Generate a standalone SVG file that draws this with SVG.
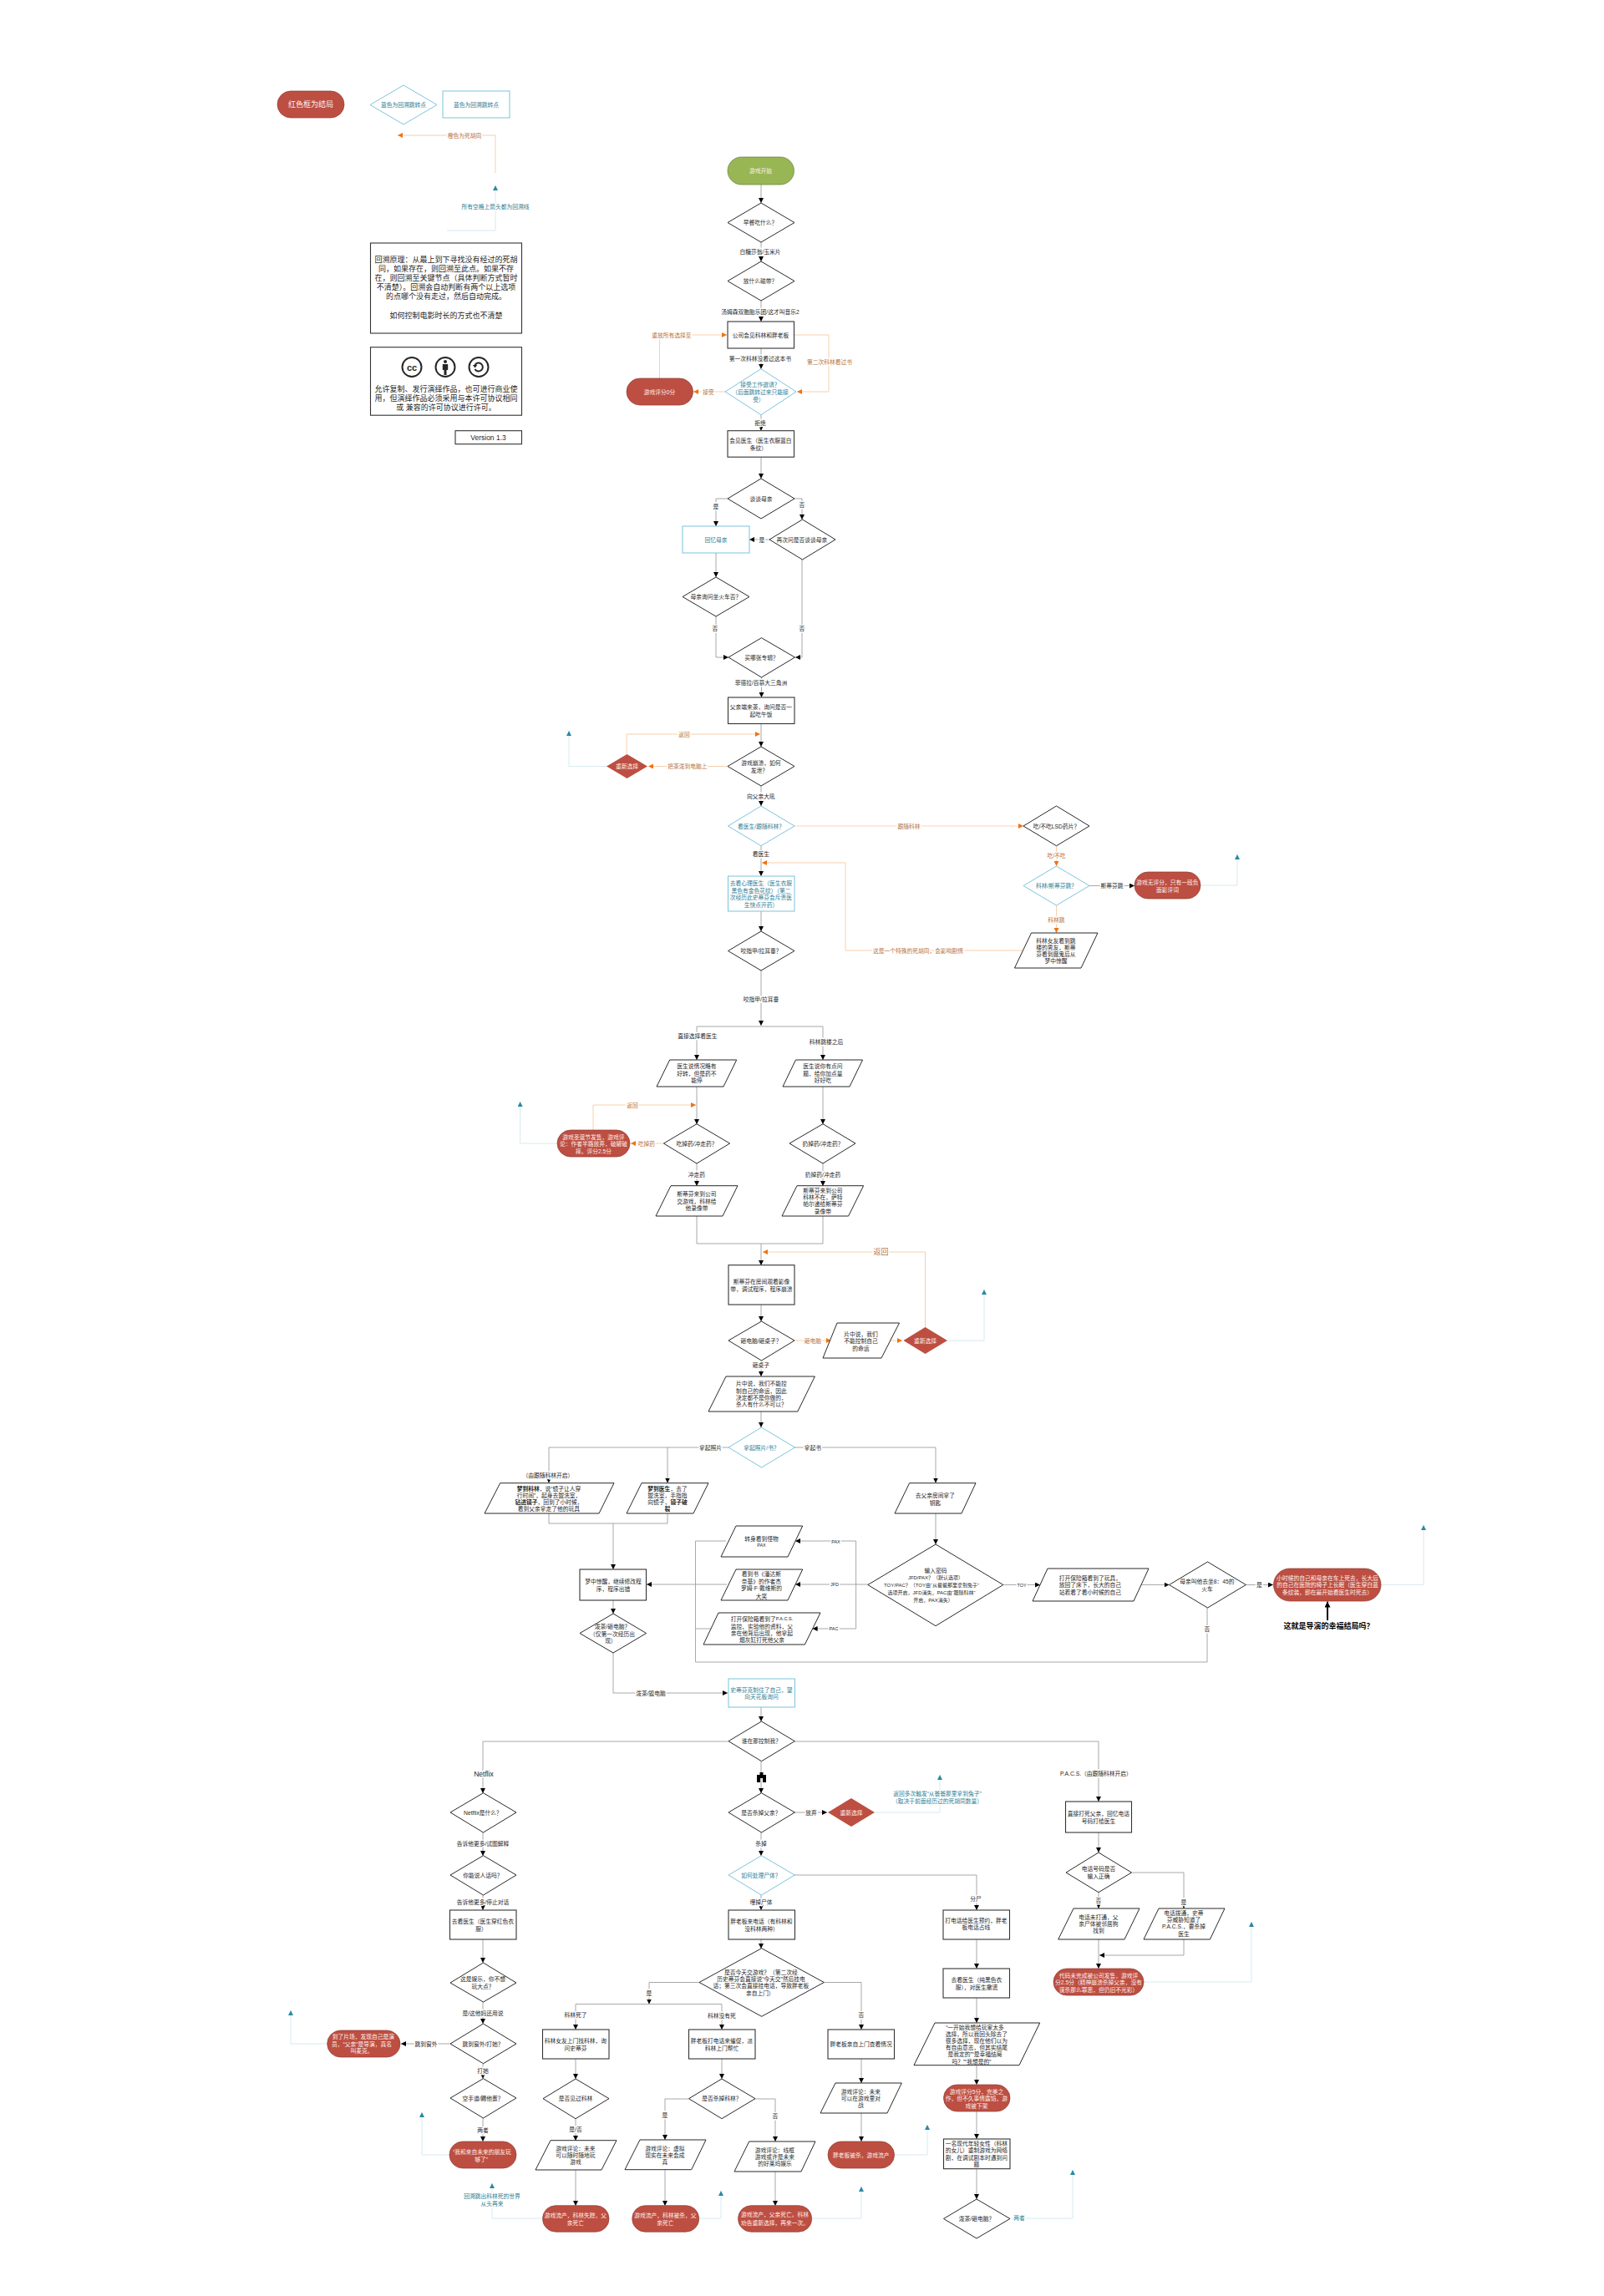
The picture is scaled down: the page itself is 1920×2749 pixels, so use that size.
<svg xmlns="http://www.w3.org/2000/svg" width="1920" height="2749" viewBox="0 0 1920 2749">
<style>
text{font-family:"Liberation Sans","Noto Sans CJK SC",sans-serif;font-size:6.75px;fill:#1f1f1f;text-anchor:middle;dominant-baseline:central}
.n{fill:#fff;stroke:#111;stroke-width:.9}
.h{fill:#fff;stroke:#333;stroke-width:1.1}
.b{fill:#fff;stroke:#6dbdd7;stroke-width:.9}
.r{fill:#bd4f42;stroke:#8f3b32;stroke-width:.7}
.d{fill:#bd4f42;stroke:none}
.g{fill:#98b654;stroke:#66803a;stroke-width:.7}
.tt{fill:#2f7e94}
.tw{fill:#fdeee9}
.to{fill:#b8733e}
.big{font-size:9px}
.em{font-weight:bold}
.l{paint-order:stroke;stroke:#fff;stroke-width:3px;stroke-linejoin:round}
.c{fill:none;stroke:#939393;stroke-width:.8}
.a{fill:none;stroke:#939393;stroke-width:.8;marker-end:url(#ab)}
.o{fill:none;stroke:#f8cfac;stroke-width:1;marker-end:url(#ao)}
.t{fill:none;stroke:#d3e8ee;stroke-width:.9;marker-end:url(#at)}
</style>
<defs>
<marker id="ab" markerUnits="userSpaceOnUse" viewBox="0 0 6 6" refX="6" refY="3" markerWidth="6" markerHeight="6" orient="auto"><path d="M0 0L6 3L0 6z" fill="#000"/></marker>
<marker id="ao" markerUnits="userSpaceOnUse" viewBox="0 0 6 6" refX="6" refY="3" markerWidth="6" markerHeight="6" orient="auto"><path d="M0 0L6 3L0 6z" fill="#ee7412"/></marker>
<marker id="at" markerUnits="userSpaceOnUse" viewBox="0 0 6 6" refX="6" refY="3" markerWidth="6" markerHeight="6" orient="auto"><path d="M0 0L6 3L0 6z" fill="#2a88a4"/></marker>
<marker id="ak" markerUnits="userSpaceOnUse" viewBox="0 0 7 7" refX="7" refY="3.5" markerWidth="7" markerHeight="7" orient="auto"><path d="M0 0L7 3.5L0 7z" fill="#000"/></marker>
</defs>
<rect width="1920" height="2749" fill="#fff"/>
<g id="connectors">
<path class="a" d="M911 221V243"/><path class="a" d="M911 290V313"/><path class="a" d="M911 360V385"/><path class="a" d="M911 417V441.700"/><path class="a" d="M911 496.700V515.700"/><path class="a" d="M911 547V573"/><path class="a" d="M871 597H857V630"/><path class="a" d="M950 597H960V622"/><path class="a" d="M921 646H897"/><path class="a" d="M960 670V787H952"/><path class="a" d="M857 662V691"/><path class="a" d="M857 738V787H872"/><path class="a" d="M911.500 811V835"/><path class="a" d="M911 866V894"/><path class="a" d="M911 941V965"/><path class="a" d="M911 1013V1049"/><path class="a" d="M911 1091V1115"/><path class="a" d="M911 1162V1228"/><path class="a" d="M834 1229V1269"/><path class="a" d="M985 1229V1269"/><path class="a" d="M834 1301V1346"/><path class="a" d="M985 1301V1346"/><path class="a" d="M834 1393V1420"/><path class="a" d="M985 1393V1420"/><path class="a" d="M911 1489V1515"/><path class="a" d="M911 1562V1582"/><path class="a" d="M911 1629V1648"/><path class="a" d="M911 1690V1709"/><path class="a" d="M872 1733H657V1775.500"/><path class="a" d="M799 1733V1775.500"/><path class="a" d="M951 1733H1120V1775.500"/><path class="a" d="M734 1824V1879"/><path class="a" d="M734 1916V1932"/><path class="a" d="M734 1979V2027H871"/><path class="a" d="M1120 1812V1849"/><path class="a" d="M1039 1897H952"/><path class="a" d="M1024.600 1897V1845H952"/><path class="a" d="M1024.600 1897V1950H972.600"/><path class="a" d="M870 1897H774"/><path class="a" d="M1201 1897.500H1245"/><path class="a" d="M1366 1897.500H1399.500"/><path class="a" d="M1491 1897.500H1524"/><path class="a" d="M911 2044V2061"/><path class="a" d="M911 2109V2147"/><path class="a" d="M911 2194V2222"/><path class="a" d="M911 2269V2287"/><path class="a" d="M911 2322V2333"/><path class="a" d="M872 2085H578V2147"/><path class="a" d="M951 2085H1315V2157"/><path class="a" d="M578 2194V2222"/><path class="a" d="M578 2269V2287"/><path class="a" d="M578 2322V2350"/><path class="a" d="M578 2397V2423"/><path class="a" d="M578 2471V2488.700"/><path class="a" d="M578 2536V2564"/><path class="a" d="M539 2447H480"/><path class="a" d="M951 2170H990"/><path class="a" d="M951 2245H1169V2287"/><path class="a" d="M1169 2322V2357"/><path class="a" d="M1169 2392V2422"/><path class="a" d="M1169 2472.700V2496"/><path class="a" d="M1169 2528V2561"/><path class="a" d="M1169 2597V2633"/><path class="a" d="M837 2373.500H777V2399.500"/><path class="a" d="M689 2399.500V2430"/><path class="a" d="M864 2399.500V2430"/><path class="a" d="M986 2373.500H1031V2430"/><path class="a" d="M689 2465V2489"/><path class="a" d="M689 2537V2563"/><path class="a" d="M689 2598V2641"/><path class="a" d="M864 2465V2489"/><path class="a" d="M824 2513H796V2562"/><path class="a" d="M904 2513H928V2564"/><path class="a" d="M796 2598V2641"/><path class="a" d="M928 2600V2641"/><path class="a" d="M1031 2465V2494"/><path class="a" d="M1031 2530V2564"/><path class="a" d="M1315 2194V2218"/><path class="a" d="M1315 2266V2285"/><path class="a" d="M1355 2242H1417V2285"/><path class="a" d="M1315 2322V2357"/><path class="a" d="M1417 2322V2341H1316"/><path class="a" d="M1304 1060.500H1358"/>
<path class="c" d="M834 1229H985M834 1456V1489H985V1456M657 1812V1824H799V1812M869 1845H832.500V1990H1445V1925M851 1950H832.500M689 2399.500H864"/>
<path class="o" d="M593 207V162H476"/><path class="o" d="M789.500 453V401H870"/><path class="o" d="M950 401H992V469H954"/><path class="o" d="M868 469H830"/><path class="o" d="M750 903V879H910"/><path class="o" d="M871 917.500H776"/><path class="o" style="stroke-width:1.400;stroke:#fbe3d3" d="M951 989H1225"/><path class="o" d="M1264.500 1013V1037"/><path class="o" d="M1264.500 1084V1117"/><path class="o" d="M1224 1138H1012V1033H912"/><path class="o" d="M710 1353V1323H833"/><path class="o" d="M794 1369H755"/><path class="o" d="M1107.500 1589V1499H913"/><path class="o" d="M951 1605H995"/><path class="o" d="M1065 1605H1080"/>
<path class="t" d="M535 276H593V222"/><path class="t" d="M726 917.500H681V875"/><path class="t" d="M1437 1060H1481V1023"/><path class="t" d="M667 1369H622.600V1319"/><path class="t" d="M1134 1605H1178V1544"/><path class="t" d="M1653 1897.500H1704V1826"/><path class="t" d="M1047 2170H1125V2125"/><path class="t" d="M1369 2373H1498V2301"/><path class="t" d="M392 2447H348V2407"/><path class="t" d="M538 2580H505V2529"/><path class="t" d="M649 2656H589V2614"/><path class="t" d="M837 2656H863V2623"/><path class="t" d="M972 2656H1031V2618"/><path class="t" d="M1071 2580H1110V2544"/><path class="t" d="M1209 2656H1284V2598"/>
<path d="M1589 1940V1917.500" fill="none" stroke="#000" stroke-width="2" marker-end="url(#ak)"/>
<path d="M909.500 2122h4v3h3.500v9h-4v-5h-3v5h-4v-9h3.500z" fill="#000"/>
<g>
<text class="l to" x="556" y="162">橙色为死胡同</text>
<text class="l tt" x="593" y="247">所有空格上箭头都为回溯线</text>
<text class="l" x="910" y="301">白糖莎翁/玉米片</text>
<text class="l" x="910" y="373">汤姆森双胞胎乐团/这才叫音乐2</text>
<text class="l to" x="804" y="401">重放所有选择至</text>
<text class="l" x="910" y="429">第一次科林没看过这本书</text>
<text class="l to" x="993" y="433">第二次科林看过书</text>
<text class="l to" x="848" y="469">接受</text>
<text class="l" x="910" y="506">拒绝</text>
<text class="l" x="857" y="606">是</text>
<text class="l" x="960" y="604">否</text>
<text class="l" x="912" y="646">是</text>
<text class="l" x="856" y="752">否</text>
<text class="l" x="960" y="752">否</text>
<text class="l" x="911" y="817">菲德拉/百慕大三角洲</text>
<text class="l to" x="819" y="879">返回</text>
<text class="l to" x="823" y="917.500">把茶泼到电脑上</text>
<text class="l" x="911" y="953">向父亲大吼</text>
<text class="l to" x="1088" y="989">跟随科林</text>
<text class="l" x="911" y="1022">看医生</text>
<text class="l to" x="1264.500" y="1024">吃/不吃</text>
<text class="l" x="1331" y="1060.500">斯蒂芬跳</text>
<text class="l to" x="1264.500" y="1101">科林跳</text>
<text class="l to" x="1099" y="1138">这是一个特殊的死胡同&#xFF0C;会影响剧情</text>
<text class="l" x="911" y="1196">咬指甲/拉耳垂</text>
<text class="l" x="835" y="1240">直接选择看医生</text>
<text class="l" x="989" y="1247">科林跳楼之后</text>
<text class="l to" x="757" y="1323">返回</text>
<text class="l to" x="774" y="1369">吃掉药</text>
<text class="l" x="834" y="1406">冲走药</text>
<text class="l" x="985" y="1406">扔掉药/冲走药</text>
<text class="l to big" x="1054.500" y="1499">返回</text>
<text class="l to" x="973" y="1605">砸电脑</text>
<text class="l" x="911" y="1634">砸桌子</text>
<text class="l" x="850.500" y="1733">拿起照片</text>
<text class="l" x="973" y="1733.500">拿起书</text>
<text class="l" x="656" y="1766">&#xFF08;由跟随科林开启&#xFF09;</text>
<text class="l" style="font-size:5.500px" x="1000.500" y="1846">PAX</text>
<text class="l" style="font-size:5.500px" x="999" y="1897">JFD</text>
<text class="l" style="font-size:5.500px" x="998" y="1950">PAC</text>
<text class="l" style="font-size:5.500px" x="1223" y="1897.500">TOY</text>
<text class="l" x="1507.500" y="1897.500">是</text>
<text class="l" x="1445" y="1950">否</text>
<text class="l" x="779" y="2027">泼茶/毁电脑</text>
<text class="l" style="font-size:8.500px" x="579" y="2124">Netflix</text>
<text class="l" x="1312" y="2123">P.A.C.S.&#xFF08;由跟随科林开启&#xFF09;</text>
<text class="l" x="971" y="2170">放弃</text>
<text class="l tt" x="1122" y="2147">返回多次触发&#x201C;从爸爸那里拿到兔子&#x201D;</text>
<text class="l tt" x="1122" y="2156">&#xFF08;取决于前面经历过的死胡同数量&#xFF09;</text>
<text class="l" x="578" y="2207.700">告诉他更多/试图解释</text>
<text class="l" x="911" y="2207.700">杀掉</text>
<text class="l" x="578" y="2277.700">告诉他更多/停止对话</text>
<text class="l" x="911" y="2277.700">埋掉尸体</text>
<text class="l" x="1168" y="2273">分尸</text>
<text class="l" x="1315" y="2275.700">否</text>
<text class="l" x="1417" y="2277">是</text>
<text class="l" x="777" y="2386">是</text>
<text class="l" x="578" y="2410">是/这他妈还用说</text>
<text class="l" x="689" y="2412">科林死了</text>
<text class="l" x="864" y="2413.700">科林没有死</text>
<text class="l" x="1031" y="2412">否</text>
<text class="l" x="510" y="2447">跳到窗外</text>
<text class="l" x="578" y="2479.700">打她</text>
<text class="l" x="796" y="2532">是</text>
<text class="l" x="928" y="2533.700">否</text>
<text class="l" x="578" y="2550">两者</text>
<text class="l" x="689" y="2549.700">是/否</text>
<text class="l tt" x="589" y="2629.500">回溯跳出科林死的世界</text>
<text class="l tt" x="589" y="2638.500">从头再来</text>
<text class="l tt" x="1220" y="2655">两者</text>
</g>
</g>

<g id="legend-end"><rect class="r" x="332" y="109" width="80" height="32" rx="16"/><text class="tw big" x="372" y="125">红色框为结局</text></g>
<g id="legend-diamond"><polygon class="b" points="483,102 523,125.500 483,149 443,125.500"/><text class="tt" x="483" y="125">蓝色为回溯跳转点</text></g>
<g id="legend-rect"><rect class="b" x="530" y="109" width="80" height="32"/><text class="tt" x="570" y="125.500">蓝色为回溯跳转点</text></g>
<g id="note-principle"><rect class="h" x="443.500" y="291" width="181" height="108"/>
<text class="big"><tspan x="534" y="311">回溯原理&#xFF1A;从最上到下寻找没有经过的死胡</tspan><tspan x="534" y="322">同&#xFF0C;如果存在&#xFF0C;则回溯至此点。如果不存</tspan><tspan x="534" y="333">在&#xFF0C;则回溯至关键节点&#xFF08;具体判断方式暂时</tspan><tspan x="534" y="343.500">不清楚&#xFF09;。回溯会自动判断有两个以上选项</tspan><tspan x="534" y="355">的点哪个没有走过&#xFF0C;然后自动完成。</tspan><tspan x="534" y="378">如何控制电影时长的方式也不清楚</tspan></text></g>
<g id="note-license"><rect class="h" x="443.500" y="415.700" width="181" height="81.500"/>
<circle cx="493" cy="439.500" r="11.500" fill="#fff" stroke="#262626" stroke-width="2"/><text class="em" style="font-size:11px" x="493" y="439.500">cc</text>
<circle cx="533" cy="439.500" r="11.500" fill="#fff" stroke="#262626" stroke-width="2"/><circle cx="533" cy="433" r="2" fill="#262626"/><path d="M529.800 436h6.400v7h-1.700v6h-3v-6h-1.700z" fill="#262626"/>
<circle cx="573" cy="439.500" r="11.500" fill="#fff" stroke="#262626" stroke-width="2"/><path d="M568.500 437a5 5 0 1 1 0 5" fill="none" stroke="#262626" stroke-width="2"/><path d="M565.800 437h5.500l-2.700 3.500z" fill="#262626"/>
<text class="big"><tspan x="534" y="466">允许复制、发行演绎作品&#xFF0C;也可进行商业使</tspan><tspan x="534" y="477">用&#xFF0C;但演绎作品必须采用与本许可协议相同</tspan><tspan x="534" y="488">或 兼容的许可协议进行许可。</tspan></text></g>
<g id="version"><rect class="h" x="545" y="515.700" width="79.500" height="16"/><text style="font-size:8.500px" x="584.500" y="523.500">Version 1.3</text></g>

<g id="start"><rect class="g" x="871" y="188" width="79.500" height="33" rx="16.500"/><text class="tw" x="910.500" y="204.500">游戏开始</text></g>
<g id="d-breakfast"><polygon class="n" points="911,243 951,266.500 911,290 871,266.500"/><text x="910" y="266.500">早餐吃什么&#xFF1F;</text></g>
<g id="d-tape"><polygon class="n" points="911,313 951,336.500 911,360 871,336.500"/><text x="910" y="336.500">放什么磁带&#xFF1F;</text></g>
<g id="r-company"><rect class="h" x="871" y="385" width="79.500" height="32"/><text x="910.500" y="401">公司会见科林和胖老板</text></g>
<g id="d-job"><polygon class="b" points="911,441.700 953,469 911,496.700 868,469"/><text class="tt"><tspan x="910" y="460">接受工作邀请&#xFF1F;</tspan><tspan x="910" y="469">&#xFF08;后面跳转过来只能接</tspan><tspan x="908" y="477.500">受&#xFF09;</tspan></text></g>
<g id="e-score0"><rect class="r" x="750" y="453" width="79.500" height="32" rx="16"/><text class="tw" x="789.500" y="469">游戏评分0分</text></g>
<g id="r-doctor1"><rect class="h" x="871" y="515.700" width="79.500" height="31.500"/><text><tspan x="910.500" y="527">会见医生&#xFF08;医生衣服蓝白</tspan><tspan x="908" y="535.700">条纹&#xFF09;</tspan></text></g>
<g id="d-mother"><polygon class="n" points="911,573 951,597 911,621 871,597"/><text x="911" y="597">谈谈母亲</text></g>
<g id="r-memory"><rect class="b" x="817" y="630" width="80" height="32"/><text class="tt" x="857" y="646">回忆母亲</text></g>
<g id="d-again"><polygon class="n" points="960.500,622 1000,646 960.500,670 921,646"/><text x="960" y="646">再次问是否谈谈母亲</text></g>
<g id="d-train"><polygon class="n" points="857,691 897,714.500 857,738 817,714.500"/><text x="857" y="714.500">母亲询问坐火车否&#xFF1F;</text></g>
<g id="d-album"><polygon class="n" points="911.500,763.700 951.500,787 911.500,811 872,787"/><text x="911.500" y="787">买哪张专辑&#xFF1F;</text></g>
<g id="r-tea"><rect class="h" x="871.500" y="835" width="79.500" height="31.500"/><text><tspan x="911" y="846">父亲端来茶&#xFF0C;询问是否一</tspan><tspan x="911" y="854.700">起吃午饭</tspan></text></g>
<g id="d-crash"><polygon class="n" points="911,894 951,917.500 911,941 871,917.500"/><text><tspan x="911" y="913">游戏崩溃&#xFF0C;如何</tspan><tspan x="909" y="922">发泄&#xFF1F;</tspan></text></g>
<g id="x-reselect1"><polygon class="d" points="750.500,903 775,917.500 750.500,932 726,917.500"/><text class="tw" x="750.500" y="917.500">重新选择</text></g>
<g id="d-follow"><polygon class="b" points="911,965 951,989 911,1012.700 871.500,989"/><text class="tt" x="911" y="989">看医生/跟随科林&#xFF1F;</text></g>
<g id="d-lsd"><polygon class="n" points="1264.500,965 1304,989 1264.500,1012.700 1225,989"/><text x="1264.500" y="989">吃/不吃LSD药片&#xFF1F;</text></g>
<g id="d-jump"><polygon class="b" points="1264.500,1037 1304,1060.500 1264.500,1084 1225,1060.500"/><text class="tt" x="1264.500" y="1060.500">科林/斯蒂芬跳&#xFF1F;</text></g>
<g id="e-noscore"><rect class="r" x="1358" y="1044" width="79" height="32" rx="16"/><text class="tw"><tspan x="1397.500" y="1055.500">游戏无评分&#xFF0C;只有一段负</tspan><tspan x="1397.500" y="1064.500">面影评词</tspan></text></g>
<g id="p-girl"><polygon class="n" points="1234.500,1117 1314,1117 1294,1159 1214.500,1159"/><text><tspan x="1264" y="1125.700">科林女友看到跳</tspan><tspan x="1264" y="1133.700">楼的男友&#xFF0C;斯蒂</tspan><tspan x="1264" y="1141.700">芬看到魔鬼后从</tspan><tspan x="1264" y="1150">梦中惊醒</tspan></text></g>
<g id="r-psych"><rect class="b" x="871.500" y="1049" width="79.500" height="42"/><text class="tt"><tspan x="911" y="1057">去看心理医生&#xFF08;医生衣服</tspan><tspan x="911" y="1065.500">黑色有金色花纹&#xFF09;&#xFF08;第二</tspan><tspan x="911" y="1074">次经历此史蒂芬会斥责医</tspan><tspan x="911" y="1082.500">生快点开药&#xFF09;</tspan></text></g>
<g id="d-nail"><polygon class="n" points="911,1115 951,1138.500 911,1162 871.500,1138.500"/><text x="911" y="1138.500">咬指甲/拉耳垂&#xFF1F;</text></g>
<g id="p-doc-a"><polygon class="n" points="801.700,1269 881.700,1269 866,1301 786,1301"/><text><tspan x="834" y="1276">医生说情况略有</tspan><tspan x="834" y="1284.500">好转&#xFF0C;但是药不</tspan><tspan x="834" y="1293">能停</tspan></text></g>
<g id="p-doc-b"><polygon class="n" points="952.500,1269 1032.500,1269 1017,1301 937,1301"/><text><tspan x="985" y="1276">医生说你有点问</tspan><tspan x="985" y="1284.500">题&#xFF0C;给你加点量</tspan><tspan x="985" y="1293">好好吃</tspan></text></g>
<g id="d-pill-a"><polygon class="n" points="834,1345.700 873.600,1369 834,1393 794.400,1369"/><text x="834" y="1369">吃掉药/冲走药&#xFF1F;</text></g>
<g id="d-pill-b"><polygon class="n" points="985,1345.700 1024,1369 985,1393 945,1369"/><text x="985" y="1369">扔掉药/冲走药&#xFF1F;</text></g>
<g id="e-xmas"><rect class="r" x="667" y="1353" width="87" height="32" rx="16"/><text class="tw"><tspan x="710.500" y="1360.500">游戏圣诞节发售&#xFF0C;游戏评</tspan><tspan x="710.500" y="1368.500">论&#xFF1A;作者半路放弃&#xFF0C;破罐破</tspan><tspan x="710.500" y="1377.500">摔。评分2.5分</tspan></text></g>
<g id="p-steve-a"><polygon class="n" points="803,1419.700 883,1419.700 865,1456 785,1456"/><text><tspan x="834" y="1429">斯蒂芬来到公司</tspan><tspan x="834" y="1437.500">交游戏&#xFF0C;科林给</tspan><tspan x="834" y="1446">他录像带</tspan></text></g>
<g id="p-steve-b"><polygon class="n" points="954,1419.700 1033.600,1419.700 1015.600,1456 936,1456"/><text><tspan x="985" y="1425">斯蒂芬来到公司</tspan><tspan x="985" y="1433">科林不在&#xFF0C;萨特</tspan><tspan x="985" y="1441">帕尔递给斯蒂芬</tspan><tspan x="985" y="1449.500">录像带</tspan></text></g>
<g id="r-watch"><rect class="h" x="872" y="1514.700" width="79" height="47.300"/><text><tspan x="911.500" y="1534">斯蒂芬在房间观看影像</tspan><tspan x="911.500" y="1542.500">带&#xFF0C;调试程序&#xFF0C;程序崩溃</tspan></text></g>
<g id="d-smash"><polygon class="n" points="911.500,1582 951,1605 911.500,1629 872,1605"/><text x="911" y="1605">砸电脑/砸桌子&#xFF1F;</text></g>
<g id="p-film1"><polygon class="n" points="1002,1584 1076.500,1584 1055,1626 985,1626"/><text><tspan x="1030.500" y="1596.500">片中说&#xFF0C;我们</tspan><tspan x="1030.500" y="1605">不能控制自己</tspan><tspan x="1030.500" y="1613.500">的命运</tspan></text></g>
<g id="x-reselect2"><polygon class="d" points="1107.500,1589 1134,1605 1107.500,1621 1081.400,1605"/><text class="tw" x="1107.500" y="1605">重新选择</text></g>
<g id="p-film2"><polygon class="n" points="869,1648 975.400,1648 954.800,1690 848,1690"/><text><tspan x="911.500" y="1656">片中说&#xFF0C;我们不能控</tspan><tspan x="911.500" y="1664.500">制自己的命运&#xFF0C;因此</tspan><tspan x="911.500" y="1672.500">决定都不是你做的&#xFF0C;</tspan><tspan x="911.500" y="1681">杀人有什么不可以&#xFF1F;</tspan></text></g>
<g id="d-photo"><polygon class="b" points="911.500,1709 951.500,1733 911.500,1757 872,1733"/><text class="tt" x="911.500" y="1733">拿起照片/书&#xFF1F;</text></g>
<g id="p-dream-colin"><polygon class="n" points="598.700,1775.700 735,1775.700 717,1812 580,1812"/><text><tspan x="657" y="1781.500"><tspan class="em">梦到科林</tspan>&#xFF0C;说&#x201C;镜子让人穿</tspan><tspan x="657" y="1790">行时间&#x201D;&#xFF0C;起身去盥洗室&#xFF0C;</tspan><tspan x="657" y="1797.500"><tspan class="em">钻进镜子</tspan>&#xFF0C;回到了小时候&#xFF0C;</tspan><tspan x="657" y="1806">看到父亲拿走了他的玩具</tspan></text></g>
<g id="p-dream-doc"><polygon class="n" points="768,1775.700 848,1775.700 830,1812 750,1812"/><text><tspan x="799" y="1781.500"><tspan class="em">梦到医生</tspan>&#xFF0C;去了</tspan><tspan x="799" y="1790">盥洗室&#xFF0C;手指指</tspan><tspan x="799" y="1797.500">向镜子&#xFF0C;<tspan class="em">镜子破</tspan></tspan><tspan class="em" x="799" y="1806">裂</tspan></text></g>
<g id="p-key"><polygon class="n" points="1088.600,1775.700 1168,1775.700 1151,1812 1071,1812"/><text><tspan x="1119.500" y="1789.500">去父亲房间拿了</tspan><tspan x="1119.500" y="1798.500">钥匙</tspan></text></g>
<g id="p-pax"><polygon class="n" points="881,1827 960.700,1827 943,1864 863,1864"/><text><tspan x="911.500" y="1841.500">转身看到怪物</tspan><tspan style="font-size:5.500px" x="911.500" y="1850">PAX</tspan></text></g>
<g id="p-jfd"><polygon class="n" points="881,1879 960.700,1879 943,1916 863,1916"/><text><tspan x="911.500" y="1884">看到书&#x300A;潘达斯</tspan><tspan x="911.500" y="1893">奈基&#x300B;的作者杰</tspan><tspan x="911.500" y="1901">罗姆&#xB7;F&#xB7;戴维斯的</tspan><tspan x="911.500" y="1910.500">大笑</tspan></text></g>
<g id="p-pac"><polygon class="n" points="860,1931 982,1931 963.400,1969 842,1969"/><text><tspan x="912" y="1938">打开保险箱看到了<tspan style="font-size:5.500px">P.A.C.S.</tspan></tspan><tspan x="912" y="1946.500">监控、实验他的资料&#xFF0C;父</tspan><tspan x="912" y="1954.500">亲在他背后出现&#xFF0C;他拿起</tspan><tspan x="912" y="1963">烟灰缸打死他父亲</tspan></text></g>
<g id="r-wake"><rect class="h" x="694" y="1879" width="79.500" height="37"/><text><tspan x="734" y="1893">梦中惊醒&#xFF0C;继续修改程</tspan><tspan x="734" y="1902">序&#xFF0C;程序出错</tspan></text></g>
<g id="d-tea"><polygon class="n" points="734,1932 773.600,1955.500 734,1979 694,1955.500"/><text><tspan x="733" y="1947">泼茶/砸电脑&#xFF1F;</tspan><tspan x="733" y="1955.500">&#xFF08;仅第一次经历出</tspan><tspan x="731" y="1964">现&#xFF09;</tspan></text></g>
<g id="d-password"><polygon class="n" points="1120,1849 1200.800,1897.500 1120,1946.700 1038.800,1897.500"/><text><tspan x="1120" y="1880">输入密码</tspan><tspan x="1120" y="1889" style="font-size:6px">JFD/PAX&#xFF1F;&#xFF08;默认选项&#xFF09;</tspan><tspan x="1115" y="1898" style="font-size:6px">TOY/PAC&#xFF1F;&#xFF08;TOY由&#x201C;从爸爸那里拿到兔子&#x201D;</tspan><tspan x="1115" y="1906.500" style="font-size:6px">选项开启&#xFF0C;JFD消失&#xFF0C;PAC由&#x201C;跟随科林&#x201D;</tspan><tspan x="1117" y="1915.500" style="font-size:6px">开启&#xFF0C;PAX消失&#xFF09;</tspan></text></g>
<g id="p-toy"><polygon class="n" points="1254,1878 1375,1878 1357,1917 1236,1917"/><text><tspan x="1305" y="1889">打开保险箱看到了玩具&#xFF0C;</tspan><tspan x="1305" y="1897">放回了床下&#xFF0C;长大的自己</tspan><tspan x="1305" y="1906">站着看了看小时候的自己</tspan></text></g>
<g id="d-845"><polygon class="n" points="1445.500,1870 1491.400,1897.500 1445.500,1925 1399.500,1897.500"/><text><tspan x="1445" y="1893">母亲叫他去坐8&#xFF1A;45的</tspan><tspan x="1445" y="1902">火车</tspan></text></g>
<g id="e-happy"><rect class="r" x="1524.500" y="1878" width="128.500" height="39" rx="19.500"/><text class="tw"><tspan x="1589" y="1889">小时候的自己和母亲在车上死去&#xFF0C;长大后</tspan><tspan x="1589" y="1897">的自己在医院的椅子上长眠&#xFF08;医生穿白蓝</tspan><tspan x="1589" y="1906">条纹装&#xFF0C;即在最开始看医生时死去&#xFF09;</tspan></text></g>
<g id="caption"><text class="em big" x="1590.500" y="1947" style="fill:#000">这就是导演的幸福结局吗&#xFF1F;</text></g>
<g id="r-hold"><rect class="b" x="872" y="2010" width="79.500" height="34"/><text class="tt"><tspan x="911.500" y="2022.500">史蒂芬克制住了自己&#xFF0C;望</tspan><tspan x="911.500" y="2031">向天花板询问</tspan></text></g>
<g id="d-who"><polygon class="n" points="911.500,2061 951.300,2084.700 911.500,2108.700 872,2084.700"/><text x="911.500" y="2084.700">谁在那控制我&#xFF1F;</text></g>
<g id="d-netflix"><polygon class="n" points="578.500,2146.700 618,2170 578.500,2194 539,2170"/><text x="578" y="2170">Netflix是什么&#xFF1F;</text></g>
<g id="d-talk"><polygon class="n" points="578.500,2221.700 618,2245 578.500,2269 539,2245"/><text x="578" y="2245">你能说人话吗&#xFF1F;</text></g>
<g id="r-reddoc"><rect class="h" x="538.500" y="2287" width="79.500" height="35"/><text><tspan x="578" y="2300">去看医生&#xFF08;医生穿红色衣</tspan><tspan x="576" y="2308.700">服&#xFF09;</tspan></text></g>
<g id="d-enter"><polygon class="n" points="578.500,2350 618,2374 578.500,2397 539,2374"/><text><tspan x="578" y="2369">这是娱乐&#xFF0C;你不想</tspan><tspan x="578" y="2378">玩大点&#xFF1F;</tspan></text></g>
<g id="d-window"><polygon class="n" points="578.500,2423 618,2447 578.500,2470.700 539,2447"/><text x="578" y="2447">跳到窗外/打她&#xFF1F;</text></g>
<g id="e-set"><rect class="r" x="391.700" y="2431" width="87.300" height="32" rx="16"/><text class="tw"><tspan x="435" y="2438">到了片场&#xFF0C;发现自己是演</tspan><tspan x="433" y="2446.500">员&#xFF0C;&#x201C;父亲&#x201D;是导演&#xFF0C;真名</tspan><tspan x="433" y="2455">叫麦克。</tspan></text></g>
<g id="d-karate"><polygon class="n" points="578.500,2488.700 618,2512 578.500,2536 539,2512"/><text x="578" y="2512">空手道/踢他蛋&#xFF1F;</text></g>
<g id="e-friend"><rect class="r" x="538" y="2564" width="80" height="32" rx="16"/><text class="tw"><tspan x="577" y="2576">&#x201C;我和来自未来的朋友玩</tspan><tspan x="576" y="2584.500">够了&#x201D;</tspan></text></g>
<g id="d-kill-dad"><polygon class="n" points="911.500,2146.700 951.300,2170 911.500,2194 872,2170"/><text x="911" y="2170">是否杀掉父亲&#xFF1F;</text></g>
<g id="x-reselect3"><polygon class="d" points="1019,2153 1047,2170 1019,2187 991,2170"/><text class="tw" x="1019" y="2170">重新选择</text></g>
<g id="d-body"><polygon class="b" points="911.500,2221.700 951.300,2245 911.500,2269 872,2245"/><text class="tt" x="911" y="2245">如何处理尸体&#xFF1F;</text></g>
<g id="r-call"><rect class="h" x="872" y="2287" width="79.500" height="35"/><text><tspan x="911.500" y="2300">胖老板来电话&#xFF08;有科林和</tspan><tspan x="911.500" y="2308.700">没科林两种&#xFF09;</tspan></text></g>
<g id="d-today"><polygon class="n" points="911.700,2332.700 986.300,2373.500 911.700,2414.300 837,2373.500"/><text><tspan x="911" y="2361">是否今天交游戏&#xFF1F;&#xFF08;第二次经</tspan><tspan x="911" y="2369">历史蒂芬会直接说&#x201C;今天交&#x201D;然后挂电</tspan><tspan x="911" y="2377.300">话&#xFF1B;第三次会直接挂电话&#xFF0C;导致胖老板</tspan><tspan x="910" y="2386">亲自上门&#xFF09;</tspan></text></g>
<g id="r-girl"><rect class="h" x="649.500" y="2430" width="79.500" height="35"/><text><tspan x="689" y="2443">科林女友上门找科林&#xFF0C;询</tspan><tspan x="689" y="2451.500">问史蒂芬</tspan></text></g>
<g id="d-seen"><polygon class="n" points="689,2489 729,2512.700 689,2536.700 650,2512.700"/><text x="689" y="2512.700">是否见过科林</text></g>
<g id="p-rev1"><polygon class="n" points="659,2562.700 738,2562.700 720,2598 641,2598"/><text><tspan x="689" y="2571.500">游戏评论&#xFF1A;未来</tspan><tspan x="689" y="2579.500">可以随时随地玩</tspan><tspan x="689" y="2588">游戏</tspan></text></g>
<g id="e-missing"><rect class="r" x="649.500" y="2640.700" width="79.500" height="31.500" rx="15.700"/><text class="tw"><tspan x="689" y="2652">游戏流产&#xFF0C;科林失踪&#xFF0C;父</tspan><tspan x="689" y="2660.700">亲死亡</tspan></text></g>
<g id="r-boss-call"><rect class="h" x="824.500" y="2430" width="79.500" height="35"/><text><tspan x="864" y="2443">胖老板打电话来催促&#xFF0C;派</tspan><tspan x="864" y="2451.500">科林上门帮忙</tspan></text></g>
<g id="d-kill-colin"><polygon class="n" points="864,2489 904,2512.700 864,2536.700 824.500,2512.700"/><text x="864" y="2512.700">是否杀掉科林&#xFF1F;</text></g>
<g id="p-rev2"><polygon class="n" points="766,2562 845,2562 827.700,2597.700 748,2597.700"/><text><tspan x="796" y="2571.500">游戏评论&#xFF1A;虚拟</tspan><tspan x="796" y="2579.500">现实在未来会成</tspan><tspan x="796" y="2588">真</tspan></text></g>
<g id="e-killed"><rect class="r" x="756.700" y="2640.700" width="80" height="31.500" rx="15.700"/><text class="tw"><tspan x="796.500" y="2652">游戏流产&#xFF0C;科林被杀&#xFF0C;父</tspan><tspan x="796.500" y="2660.700">亲死亡</tspan></text></g>
<g id="p-rev3"><polygon class="n" points="896.700,2564 976,2564 959,2600 879,2600"/><text><tspan x="927.500" y="2573.500">游戏评论&#xFF1A;线框</tspan><tspan x="927.500" y="2581.500">游戏或许是未来</tspan><tspan x="927.500" y="2590">的好莱坞娱乐</tspan></text></g>
<g id="e-dad"><rect class="r" x="883.500" y="2640.700" width="88.200" height="31.500" rx="15.700"/><text class="tw"><tspan x="927.500" y="2651">游戏流产&#xFF0C;父亲死亡。科林</tspan><tspan x="927.500" y="2661">劝告重新选择&#xFF0C;再来一次。</tspan></text></g>
<g id="r-boss-door"><rect class="h" x="991" y="2430" width="79.500" height="35"/><text x="1030.700" y="2447.500">胖老板亲自上门查看情况</text></g>
<g id="p-rev4"><polygon class="n" points="1000,2494 1079.300,2494 1062,2530 982,2530"/><text><tspan x="1030.500" y="2503.500">游戏评论&#xFF1A;未来</tspan><tspan x="1030.500" y="2511.500">可以在游戏里对</tspan><tspan x="1030.500" y="2520">战</tspan></text></g>
<g id="e-boss"><rect class="r" x="991" y="2564" width="79.500" height="32" rx="16"/><text class="tw" x="1030.700" y="2580">胖老板被杀&#xFF0C;游戏流产</text></g>
<g id="r-appoint"><rect class="h" x="1129" y="2287" width="79.500" height="35"/><text><tspan x="1168.500" y="2298.500">打电话给医生预约&#xFF0C;胖老</tspan><tspan x="1168.500" y="2307">板电话占线</tspan></text></g>
<g id="r-black"><rect class="h" x="1129" y="2357" width="79.500" height="35"/><text><tspan x="1169" y="2370">去看医生&#xFF08;纯黑色衣</tspan><tspan x="1169" y="2379">服&#xFF09;&#xFF0C;对医生撒谎</tspan></text></g>
<g id="p-choice"><polygon class="n" points="1119,2422 1244.700,2422 1220,2472.700 1094,2472.700"/><text><tspan x="1167" y="2426.700">&#x201C;一开始我想给玩家太多</tspan><tspan x="1169" y="2434.700">选择&#xFF0C;所以我回头除去了</tspan><tspan x="1169" y="2443">很多选择&#xFF0C;现在他们以为</tspan><tspan x="1169" y="2451">有自由意志&#xFF0C;但其实结尾</tspan><tspan x="1167" y="2459">是我定的&#x201D;&#x201C;是幸福结局</tspan><tspan x="1163" y="2467.700">吗&#xFF1F;&#x201D;&#x201C;我想是的&#x201D;</tspan></text></g>
<g id="e-five"><rect class="r" x="1129.500" y="2496" width="79.500" height="32" rx="16"/><text class="tw"><tspan x="1169" y="2503.500">游戏评分5分&#xFF0C;完美之</tspan><tspan x="1169" y="2512">作&#xFF0C;但不久事情露馅&#xFF0C;游</tspan><tspan x="1169" y="2520.500">戏被下架</tspan></text></g>
<g id="r-woman"><rect class="h" x="1129.500" y="2561" width="79.500" height="35.700"/><text><tspan x="1169" y="2566">一名现代年轻女性&#xFF08;科林</tspan><tspan x="1169" y="2574">的女儿&#xFF09;重制游戏为网络</tspan><tspan x="1169" y="2582.500">剧&#xFF0C;在调试剧本时遇到问</tspan><tspan x="1169" y="2591">题</tspan></text></g>
<g id="d-last"><polygon class="n" points="1169,2633 1209,2656.500 1169,2680 1129.500,2656.500"/><text x="1169" y="2656.500">泼茶/砸电脑&#xFF1F;</text></g>
<g id="r-phone"><rect class="h" x="1275.500" y="2157" width="79" height="37"/><text><tspan x="1315" y="2171">直接打死父亲&#xFF0C;回忆电话</tspan><tspan x="1315" y="2179.500">号码打给医生</tspan></text></g>
<g id="d-number"><polygon class="n" points="1315,2218 1354.500,2242 1315,2265.700 1276,2242"/><text><tspan x="1315" y="2237">电话号码是否</tspan><tspan x="1315" y="2246">输入正确</tspan></text></g>
<g id="p-dog"><polygon class="n" points="1285,2285 1364,2285 1346,2322 1266.700,2322"/><text><tspan x="1315" y="2294.500">电话未打通&#xFF0C;父</tspan><tspan x="1315" y="2302.500">亲尸体被邻居狗</tspan><tspan x="1315" y="2311">找到</tspan></text></g>
<g id="p-threat"><polygon class="n" points="1387,2285 1466,2285 1448.400,2322 1369,2322"/><text><tspan x="1417" y="2289.500">电话拨通&#xFF0C;史蒂</tspan><tspan x="1417" y="2298">芬威胁知道了</tspan><tspan x="1417" y="2306">P.A.C.S.&#xFF0C;要杀掉</tspan><tspan x="1417" y="2315">医生</tspan></text></g>
<g id="e-code"><rect class="r" x="1261" y="2357" width="108" height="32" rx="16"/><text class="tw"><tspan x="1315" y="2364.500">代码未完成被公司发售&#xFF0C;游戏评</tspan><tspan x="1315" y="2373">分2.5分&#xFF08;精神崩溃杀掉父亲&#xFF0C;没有</tspan><tspan x="1315" y="2382">谋杀那么罪恶&#xFF0C;但仍旧不光彩&#xFF09;</tspan></text></g>
</svg>
